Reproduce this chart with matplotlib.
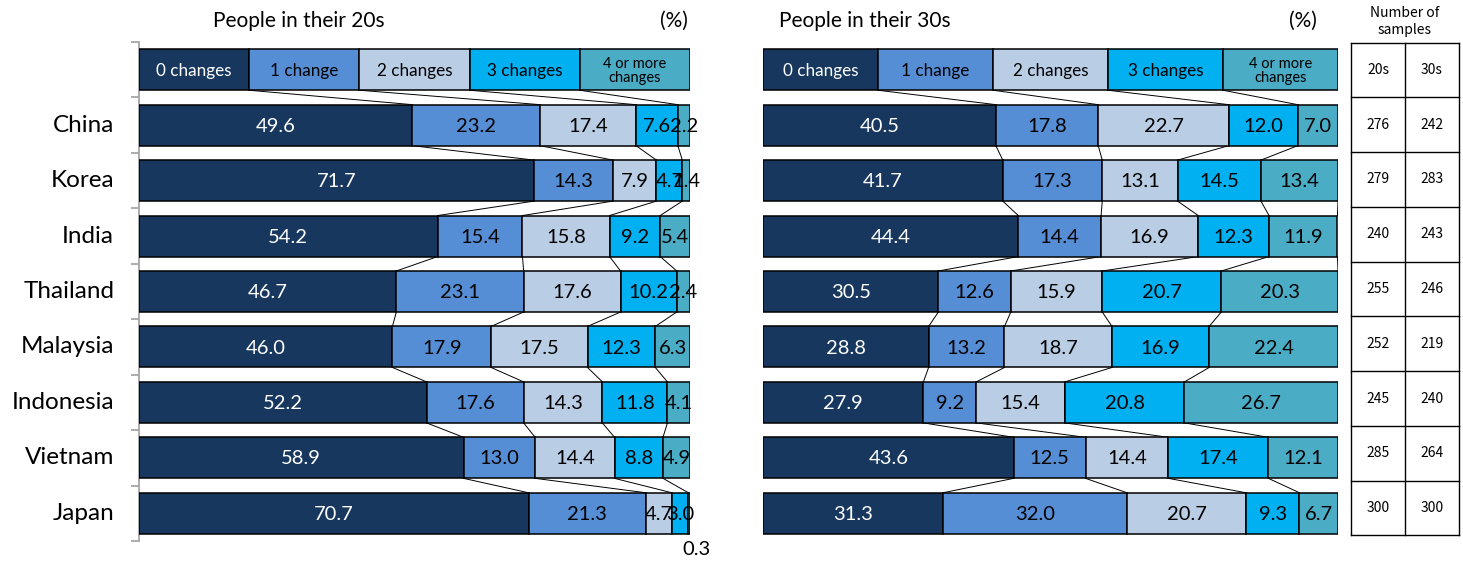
import numpy as np
import matplotlib.pyplot as plt
from matplotlib.transforms import offset_copy

plt.rcParams['font.family'] = ['Lato', 'DejaVu Sans']

# 数据
countries = ['China', 'Korea', 'India', 'Thailand', 'Malaysia', 'Indonesia', 'Vietnam', 'Japan']
series_names = ['0 changes', '1 change', '2 changes', '3 changes', '4 or more\nchanges']
header_widths = [20, 20, 20, 20, 20]

share_20s = [
    [49.6, 23.2, 17.4, 7.6, 2.2],
    [71.7, 14.3, 7.9, 4.7, 1.4],
    [54.2, 15.4, 15.8, 9.2, 5.4],
    [46.7, 23.1, 17.6, 10.2, 2.4],
    [46.0, 17.9, 17.5, 12.3, 6.3],
    [52.2, 17.6, 14.3, 11.8, 4.1],
    [58.9, 13.0, 14.4, 8.8, 4.9],
    [70.7, 21.3, 4.7, 3.0, 0.3],
]
share_30s = [
    [40.5, 17.8, 22.7, 12.0, 7.0],
    [41.7, 17.3, 13.1, 14.5, 13.4],
    [44.4, 14.4, 16.9, 12.3, 11.9],
    [30.5, 12.6, 15.9, 20.7, 20.3],
    [28.8, 13.2, 18.7, 16.9, 22.4],
    [27.9, 9.2, 15.4, 20.8, 26.7],
    [43.6, 12.5, 14.4, 17.4, 12.1],
    [31.3, 32.0, 20.7, 9.3, 6.7],
]
samples_20s = [276, 279, 240, 255, 252, 245, 285, 300]
samples_30s = [242, 283, 243, 246, 219, 240, 264, 300]

colors = ['#17375E', '#558ED5', '#B9CDE5', '#00B0F0', '#4BACC6']
text_colors = ['white', 'black', 'black', 'black', 'black']

BAR_H = 0.74
W, H = 1463, 563


def draw_panel(ax, data, title, show_spine):
    rows = [header_widths] + data
    vals = np.array(rows, dtype=float)
    cum = np.hstack([np.zeros((len(rows), 1)), np.cumsum(vals, axis=1)])
    y = np.arange(len(rows))

    for k in range(vals.shape[1]):
        ax.barh(y, vals[:, k], left=cum[:, k], height=BAR_H, color=colors[k],
                edgecolor='black', linewidth=1.1, zorder=3)

    # 系列线
    for r in range(len(rows) - 1):
        for k in range(1, cum.shape[1]):
            ax.plot([cum[r, k], cum[r + 1, k]], [r + BAR_H / 2, r + 1 - BAR_H / 2],
                    color='black', lw=0.7, zorder=2)

    # 图例行文字
    for k, name in enumerate(series_names):
        xc = cum[0, k] + vals[0, k] / 2
        fs = 10.5 if '\n' in name else 12.3
        ax.text(xc, 0.02, name, ha='center', va='center', fontsize=fs,
                color=text_colors[k], linespacing=1.0, zorder=4)

    # 数值标签
    for r in range(1, len(rows)):
        for k in range(vals.shape[1]):
            v = vals[r, k]
            xc = cum[r, k] + v / 2
            if v < 1:
                tr = offset_copy(ax.transData, fig=ax.figure, x=5, y=0, units='points')
                ax.text(xc, r + 0.66, f'{v:.1f}', ha='center', va='center',
                        fontsize=14.5, color='black', transform=tr, zorder=4,
                        clip_on=False)
            else:
                ax.text(xc, r + 0.02, f'{v:.1f}', ha='center', va='center',
                        fontsize=14.5, color=text_colors[k], zorder=4, clip_on=False)

    ax.set_xlim(0, 100)
    ax.set_ylim(len(rows) - 0.5, -0.5)
    ax.set_xticks([])
    for s in ['top', 'right', 'bottom']:
        ax.spines[s].set_visible(False)
    if show_spine:
        ax.spines['left'].set_color('#A6A6A6')
        ax.spines['left'].set_linewidth(1.3)
        ax.set_yticks(np.arange(-0.5, len(rows), 1.0))
        ax.set_yticklabels([])
        ax.tick_params(axis='y', length=6, width=1.3, color='#A6A6A6', direction='out')
        for r, name in enumerate(countries, start=1):
            ax.text(-0.045, r, name, transform=ax.get_yaxis_transform(),
                    ha='right', va='center', fontsize=17.5)
    else:
        ax.spines['left'].set_visible(False)
        ax.set_yticks([])

    ax.text(0.134 if show_spine else 0.028, 1.042, title, transform=ax.transAxes,
            ha='left', va='center', fontsize=15)
    ax.text(0.997 if show_spine else 0.963, 1.042, '(%)', transform=ax.transAxes,
            ha='right', va='center', fontsize=15)


fig = plt.figure(figsize=(W / 100, H / 100), dpi=100)
top_px, bot_px = 42, 541
ax_b = 1 - bot_px / H
ax_h = (bot_px - top_px) / H

ax1 = fig.add_axes([139 / W, ax_b, 551 / W, ax_h])
ax2 = fig.add_axes([763 / W, ax_b, 575 / W, ax_h])
draw_panel(ax1, share_20s, 'People in their 20s', True)
draw_panel(ax2, share_30s, 'People in their 30s', False)

# 样本数表格
ax3 = fig.add_axes([1351 / W, ax_b, 108 / W, ax_h])
ax3.set_xlim(0, 2)
ax3.set_ylim(8.5, -0.5)
ax3.axis('off')
t_top, t_bot = -0.49, 8.40
n_rows = 9
rh = (t_bot - t_top) / n_rows
tfont = ['Noto Sans CJK JP', 'DejaVu Sans']
cells = [['20s', '30s']] + [[str(a), str(b)] for a, b in zip(samples_20s, samples_30s)]
for i in range(n_rows + 1):
    ax3.plot([0, 2], [t_top + i * rh] * 2, color='black', lw=1.0, clip_on=False)
for xv in [0, 1, 2]:
    ax3.plot([xv, xv], [t_top, t_bot], color='black', lw=1.0, clip_on=False)
for i, row in enumerate(cells):
    for j, txt in enumerate(row):
        ax3.text(j + 0.5, t_top + (i + 0.5) * rh, txt, ha='center', va='center',
                 fontsize=10, family=tfont)
ax3.text(1, t_top - 0.38, 'Number of\nsamples', ha='center', va='center',
         fontsize=10, family=tfont, linespacing=1.25, clip_on=False)

fig.savefig('out.png', dpi=100)
